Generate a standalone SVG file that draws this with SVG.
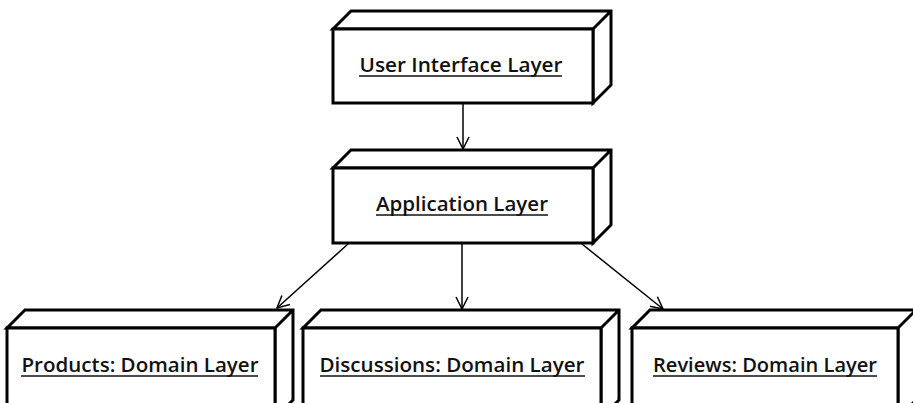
<svg xmlns="http://www.w3.org/2000/svg" width="913" height="403" viewBox="0 0 913 403">
<style>
.box{fill:#fff;stroke:#000;stroke-width:3;stroke-linejoin:miter}
.lbl{font-family:"Open Sans","DejaVu Sans",sans-serif;font-size:19px;font-weight:600;fill:#111;text-anchor:middle}
.ul{stroke:#111;stroke-width:1.3}
.conn{stroke:#000;stroke-width:1.5;fill:none}
</style>
<defs>
<marker id="open" viewBox="0 0 14 14" refX="13" refY="7" markerWidth="14" markerHeight="14" markerUnits="userSpaceOnUse" orient="auto">
<path d="M1,1 L13,7 L1,13" fill="none" stroke="#000" stroke-width="1.5"/>
</marker>
</defs>
<rect width="913" height="403" fill="#fff"/>
<g id="ui">
<path class="box" d="M333,29 L351,11 L611,11 L611,85 L593,103 L593,29 Z M593,29 L611,11"/>
<rect class="box" x="333" y="29" width="260" height="74"/>
<text class="lbl" x="461" y="72" textLength="203" lengthAdjust="spacingAndGlyphs">User Interface Layer</text>
<line class="ul" x1="359" y1="76" x2="562" y2="76"/>
</g>
<g id="app">
<path class="box" d="M333,168 L351,150 L611,150 L611,225 L593,243 L593,168 Z M593,168 L611,150"/>
<rect class="box" x="333" y="168" width="260" height="75"/>
<text class="lbl" x="462" y="211" textLength="172" lengthAdjust="spacingAndGlyphs">Application Layer</text>
<line class="ul" x1="376" y1="215" x2="548" y2="215"/>
</g>
<g id="products">
<path class="box" d="M7,328 L25,310 L293,310 L293,400 L275,418 L275,328 Z M275,328 L293,310"/>
<rect class="box" x="7" y="328" width="268" height="90"/>
<text class="lbl" x="140" y="372" textLength="237" lengthAdjust="spacingAndGlyphs">Products: Domain Layer</text>
<line class="ul" x1="21" y1="376" x2="258" y2="376"/>
</g>
<g id="discussions">
<path class="box" d="M303,328 L321,310 L619,310 L619,400 L601,418 L601,328 Z M601,328 L619,310"/>
<rect class="box" x="303" y="328" width="298" height="90"/>
<text class="lbl" x="452" y="372" textLength="265" lengthAdjust="spacingAndGlyphs">Discussions: Domain Layer</text>
<line class="ul" x1="320" y1="376" x2="585" y2="376"/>
</g>
<g id="reviews">
<path class="box" d="M632,328 L650,310 L916,310 L916,400 L898,418 L898,328 Z M898,328 L916,310"/>
<rect class="box" x="632" y="328" width="266" height="90"/>
<text class="lbl" x="765" y="372" textLength="224" lengthAdjust="spacingAndGlyphs">Reviews: Domain Layer</text>
<line class="ul" x1="653" y1="376" x2="877" y2="376"/>
</g>
<g id="connectors">
<line class="conn" x1="463" y1="104" x2="463" y2="149" marker-end="url(#open)"/>
<line class="conn" x1="348" y1="244" x2="277" y2="308" marker-end="url(#open)"/>
<line class="conn" x1="462" y1="244" x2="462" y2="309" marker-end="url(#open)"/>
<line class="conn" x1="582" y1="244" x2="663" y2="309" marker-end="url(#open)"/>
</g>
</svg>
